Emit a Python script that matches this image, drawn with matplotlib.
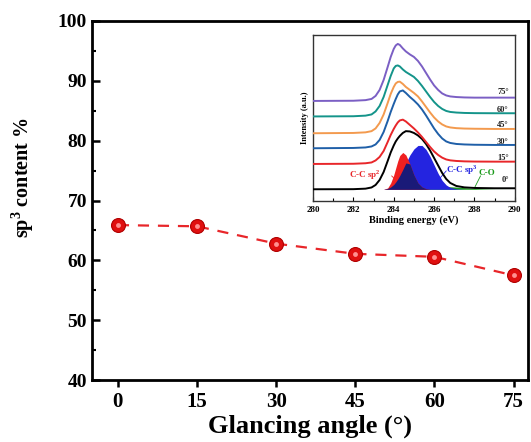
#!/usr/bin/env python3

from matplotlib import pyplot as plt
from matplotlib.ticker import MultipleLocator
import numpy as np

# main panel data
angles = [0, 15, 30, 45, 60, 75]
sp3 = [65.9, 65.7, 62.8, 61.1, 60.6, 57.5]

# inset: C1s spectra (arbitrary units, offset per angle)
be = [280, 282, 282.6, 282.9, 283.1, 283.3, 283.5, 283.7, 283.85, 284.0, 284.1,
      284.2, 284.3, 284.45, 284.6, 284.8, 285.0, 285.2, 285.4, 285.6, 285.8,
      286.0, 286.2, 286.4, 286.6, 286.8, 287.1, 287.5, 288, 289, 290]
spec_75 = [99, 99.2, 99.8, 101, 104, 110, 120, 133, 143, 151, 154.5,
           156, 155, 151.5, 148.5, 145.5, 143, 139, 133.5, 127, 120.5,
           114.5, 110, 106.5, 104.5, 103.5, 102.9, 102.5, 102.3, 102.3, 102.3]
spec_60 = [83.5, 83.7, 84.3, 85.5, 88.5, 94, 103, 115, 124, 131.5, 134,
           134.5, 133.5, 130.5, 128, 125.5, 123, 119, 114, 108.5, 103,
           98, 94, 91, 89, 88, 87.4, 87, 86.8, 86.7, 86.7]
spec_45 = [66.7, 67, 67.6, 68.8, 71.5, 77, 85.5, 97, 106, 113, 116.5,
           118, 118.3, 116, 113, 110, 107, 103.5, 98.5, 93, 87.5,
           82.5, 78.5, 75.5, 73.5, 72.5, 71.8, 71.4, 71.2, 71, 71]
spec_30 = [51.7, 52, 52.5, 53.5, 55.5, 60, 68, 79, 88, 96, 101,
           105.5, 108.5, 109.5, 107, 103, 99.5, 95.5, 90.5, 84.5, 78,
           71.5, 66, 61.5, 58.5, 57, 56, 55.5, 55.2, 55, 55]
spec_15 = [36, 36.2, 36.7, 37.5, 39.5, 43, 49, 58, 65, 71, 74.5,
           77.5, 79.5, 80.3, 78.5, 75, 71.5, 67.5, 63, 58, 53,
           48.5, 45, 42.3, 40.5, 39.6, 39, 38.6, 38.4, 38.3, 38.3]
spec_0 = [10.7, 10.8, 11.3, 12.5, 15, 20, 28, 39, 47.5, 54.5, 58.5,
          61.5, 64, 67, 68.8, 68.5, 67, 64.5, 61, 56, 49.5,
          42, 34.5, 27, 21, 17, 14, 12.6, 12, 11.7, 11.7]
# fitted components of the 0 deg spectrum
base_0 = 10.7
fit_sp2 = [10.7, 10.7, 10.7, 10.7, 10.7, 10.7, 10.7, 12, 17, 25, 32,
           39, 44.5, 47.5, 45, 36, 25, 17, 13, 11.3, 10.7,
           10.7, 10.7, 10.7, 10.7, 10.7, 10.7, 10.7, 10.7, 10.7, 10.7]
fit_sp3 = [10.7, 10.7, 10.7, 10.7, 10.7, 10.7, 10.7, 11.5, 13, 15.5, 18,
           21, 24.5, 30.5, 37, 45, 51, 54.5, 54.5, 50.5, 43.5,
           35, 26.5, 19.5, 15, 12.5, 11.2, 10.7, 10.7, 10.7, 10.7]
fit_co = [10.7, 10.7, 10.7, 10.7, 10.7, 10.7, 10.7, 10.7, 10.7, 10.7, 11,
          11.3, 11.6, 12, 12.3, 12.6, 12.8, 13, 13.2, 13.3, 13.4,
          13.5, 13.5, 13.5, 13.4, 13.2, 12.9, 12.3, 11.5, 10.8, 10.7]

spectra = [spec_0, spec_15, spec_30, spec_45, spec_60, spec_75]
spec_labels = ['0°', '15°', '30°', '45°', '60°', '75°']
spec_colors = ['black', '#e8262a', '#1f5fa8', '#f39a4e', '#14948a', '#7b5fc4']
label_y = [20, 42.3, 58.3, 75, 90, 108.3]

plt.rcParams['font.family'] = ['Liberation Serif', 'DejaVu Serif']
plt.rcParams['font.weight'] = 'bold'
plt.rcParams['mathtext.fontset'] = 'custom'
plt.rcParams['mathtext.rm'] = 'Liberation Serif:bold'
plt.rcParams['mathtext.bf'] = 'Liberation Serif:bold'

fig = plt.figure(figsize=(5.31, 4.42), dpi=100)
ax = fig.add_axes([0.173, 0.140, 0.822, 0.8125])

ax.plot(angles, sp3, '--', color='#e8262a', lw=1.6, dashes=(5, 4), zorder=2)
ax.plot(angles, sp3, 'o', ms=10, mfc='#e01010', mec='#b00000', mew=0.8, zorder=3)
ax.plot(angles, sp3, 'o', ms=3.5, mfc='#ff9090', mec='none', zorder=4)

ax.set_xlim(-4.94, 77.8)
ax.set_ylim(40, 100)
ax.set_xticks(angles)
ax.yaxis.set_major_locator(MultipleLocator(10))
ax.yaxis.set_minor_locator(MultipleLocator(5))
ax.tick_params(axis='y', which='major', direction='in', length=6, width=1.8, labelsize=14)
ax.tick_params(axis='y', which='minor', direction='in', length=3, width=1.5)
ax.tick_params(axis='x', direction='out', length=5, width=1.8, labelsize=15)
for s in ax.spines.values():
    s.set_linewidth(2)
ax.set_xlabel('Glancing angle (°)', fontsize=19, fontweight='bold', labelpad=2)
ax.set_ylabel('sp$^{3}$ content %', fontsize=14.5, fontweight='bold')
ax.yaxis.set_label_coords(-0.128, 0.565)

# inset
ins = fig.add_axes([0.5895, 0.546, 0.380, 0.375])
x = np.array(be)
ins.fill_between(x, base_0, fit_co, color='#1a9a1a', lw=0, zorder=1)
ins.fill_between(x, base_0, fit_sp3, color='#2424e0', lw=0, zorder=2)
ins.fill_between(x, base_0, fit_sp2, color='#f02020', lw=0, zorder=3)
ins.fill_between(x, base_0, np.minimum(fit_sp2, fit_sp3), color='#1a1a78', lw=0, zorder=4)
for y, c, lab, ly in zip(spectra, spec_colors, spec_labels, label_y):
    ins.plot(x, y, color=c, lw=1.4, zorder=5)
    ins.text(289.7, ly, lab, fontsize=6, ha='right', va='center', color='#222222')

ins.text(281.8, 25, 'C-C sp$^{2}$', color='#e8262a', fontsize=6.5, va='center')
ins.plot([283.9, 284.1], [24, 20], color='#e8262a', lw=0.6)
ins.text(286.6, 30, 'C-C sp$^{3}$', color='#2424e0', fontsize=6.5, va='center')
ins.plot([286.6, 286.3], [29, 22], color='#2424e0', lw=0.6)
ins.text(288.2, 27, 'C-O', color='#1a9a1a', fontsize=6.5, va='center')
ins.plot([288.3, 288.0], [24, 12], color='#1a9a1a', lw=0.6)

ins.set_xlim(280, 290)
ins.set_ylim(-0.7, 165)
ins.set_xticks([280, 282, 284, 286, 288, 290])
ins.xaxis.set_minor_locator(MultipleLocator(1))
ins.set_yticks([])
ins.tick_params(axis='x', which='both', direction='in', labelsize=6.5, length=3, width=0.8)
ins.tick_params(axis='x', which='minor', length=2)
for s in ins.spines.values():
    s.set_linewidth(1)
    s.set_color('#333333')
ins.set_xlabel('Binding energy (eV)', fontsize=7.5, fontweight='bold', labelpad=1)
ins.set_ylabel('Intensity (a.u.)', fontsize=6, fontweight='bold', labelpad=3)

fig.savefig('out.png', dpi=100)
